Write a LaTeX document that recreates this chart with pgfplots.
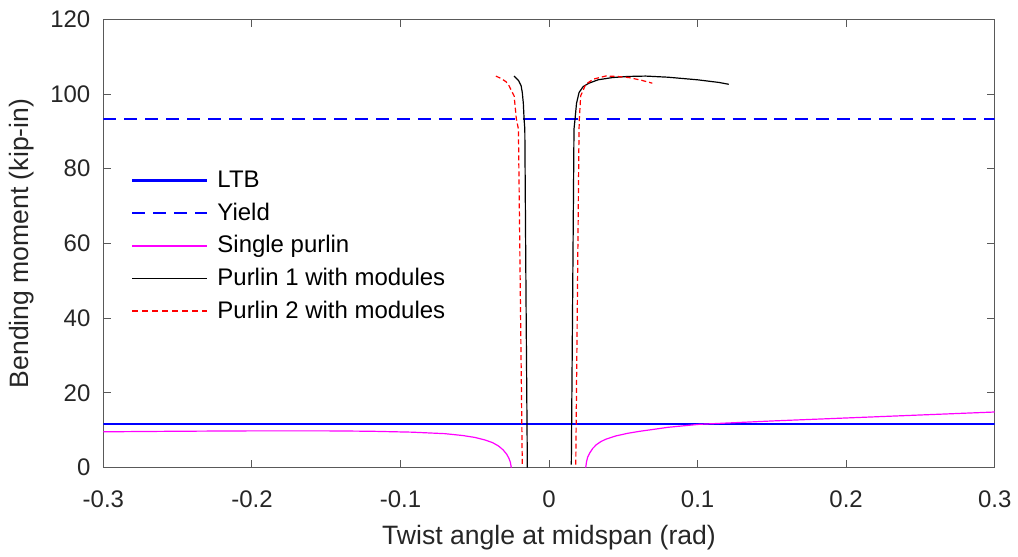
\documentclass[border=0pt]{standalone}
\usepackage{pgfplots}
\pgfplotsset{compat=1.18}
\usepackage{fontspec}
\setmainfont{Liberation Sans}
\definecolor{axgray}{RGB}{38,38,38}
\definecolor{mblue}{RGB}{0,0,255}
\definecolor{mmag}{RGB}{255,0,255}
\definecolor{mred}{RGB}{255,0,0}
\begin{document}
\begin{tikzpicture}
\begin{axis}[
    scale only axis,
    width=446.25pt, height=224.5pt,
    xmin=-0.3, xmax=0.3,
    ymin=0, ymax=120,
    xtick={-0.3,-0.2,...,0.3},
    ytick={0,20,...,120},
    xticklabels={-0.3,-0.2,-0.1,0,0.1,0.2,0.3},
    /pgf/number format/assume math mode=true,
    tick align=inside,
    major tick length=4pt,
    axis line style={draw=gray!70!black, line width=0.5pt},
    tick style={draw=gray!70!black, line width=0.5pt},
    tick label style={font=\fontsize{12}{14}\selectfont, text=axgray},
    xticklabel style={yshift=-8pt},
    yticklabel style={xshift=-3pt},
    label style={font=\fontsize{13.3}{16}\selectfont, text=axgray},
    xlabel={Twist angle at midspan (rad)},
    ylabel={Bending moment (kip-in)},
    xlabel style={at={(axis description cs:0.5,-0.1566)}, anchor=center},
    ylabel style={at={(axis description cs:-0.0913,0.5)}, anchor=center},
    clip mode=individual,
    legend cell align=left,
    legend style={draw=none, fill=none, font=\fontsize{12}{14}\selectfont,
        at={(axis description cs:0.024,0.681)}, anchor=north west,
        row sep=2.25pt,
        nodes={inner xsep=4.5pt}},
    legend image code/.code={\draw[#1] (0pt,0pt) -- (37.5pt,0pt);},
]
% LTB and yield levels
\addplot[mblue, line width=1.2pt] coordinates {(-0.3,11.76) (0.3,11.76)};
\addlegendentry{LTB}
\addplot[mblue, line width=1.2pt, dash pattern=on 6.5pt off 4pt] coordinates {(-0.3,93.3) (0.3,93.3)};
\addlegendentry{Yield}

% single purlin, two branches
\addplot[mmag, line width=0.6pt, legend image post style={line width=0.8pt}] coordinates {
    (-0.300,9.6) (-0.250,9.75) (-0.200,9.85) (-0.150,9.85) (-0.120,9.75)
    (-0.092,9.5) (-0.070,9.1) (-0.058,8.6) (-0.050,8.1) (-0.043,7.4)
    (-0.038,6.7) (-0.034,5.8) (-0.031,4.8) (-0.0285,3.6) (-0.0270,2.5)
    (-0.0260,1.4) (-0.0254,0)
};
\addlegendentry{Single purlin}
\addplot[mmag, line width=0.6pt, forget plot] coordinates {
    (0.0247,0) (0.0252,1.5) (0.0260,2.8) (0.0275,4.0) (0.0295,5.2)
    (0.0320,6.2) (0.0350,7.0) (0.0381,7.6) (0.0450,8.5) (0.0530,9.2)
    (0.0605,9.7) (0.0800,10.8) (0.1009,11.6) (0.1200,11.95) (0.1500,12.5)
    (0.2000,13.3) (0.2500,14.1) (0.3000,14.9)
};

% purlin 1 with modules
\addplot[black, line width=0.6pt, legend image post style={line width=0.8pt}] coordinates {
    (-0.0235,104.8) (-0.0205,103.6) (-0.0188,102.2) (-0.0180,100.4)
    (-0.0173,97.5) (-0.0168,93.3) (-0.0163,90.6) (-0.0155,46) (-0.0146,0)
};
\addlegendentry{Purlin 1 with modules}
\addplot[black, line width=0.6pt, forget plot] coordinates {
    (0.0150,0.8) (0.0168,90.6) (0.0175,93.3) (0.0185,97.5) (0.0202,100.4)
    (0.0230,102.0) (0.0269,102.9) (0.0330,103.8) (0.0426,104.4) (0.0530,104.7)
    (0.0650,104.8) (0.0800,104.5) (0.1000,103.8) (0.1143,103.1) (0.1210,102.6)
};

% purlin 2 with modules
\addplot[mred, line width=0.6pt, dash pattern=on 2.5pt off 1.5pt,
    legend image post style={draw=mred, line width=0.9pt, dash pattern=on 3pt off 2pt}] coordinates {
    (-0.0358,104.8) (-0.0320,104.1) (-0.0290,103.3) (-0.0269,102.2)
    (-0.0248,100.5) (-0.0235,99.5) (-0.0220,93.3) (-0.0206,90.6) (-0.0180,0.5)
};
\addlegendentry{Purlin 2 with modules}
\addplot[mred, line width=0.6pt, dash pattern=on 2.5pt off 1.5pt, forget plot] coordinates {
    (0.0180,0.8) (0.0202,90.6) (0.0204,93.3) (0.0213,99.5) (0.0247,102.6)
    (0.0300,104.0) (0.0381,104.8) (0.0460,104.7) (0.0538,104.4) (0.0620,103.7)
    (0.0695,102.9)
};

\path (axis description cs:-0.116,-0.1864) rectangle (axis description cs:1.0247,1.043);
\end{axis}
\end{tikzpicture}
\end{document}
